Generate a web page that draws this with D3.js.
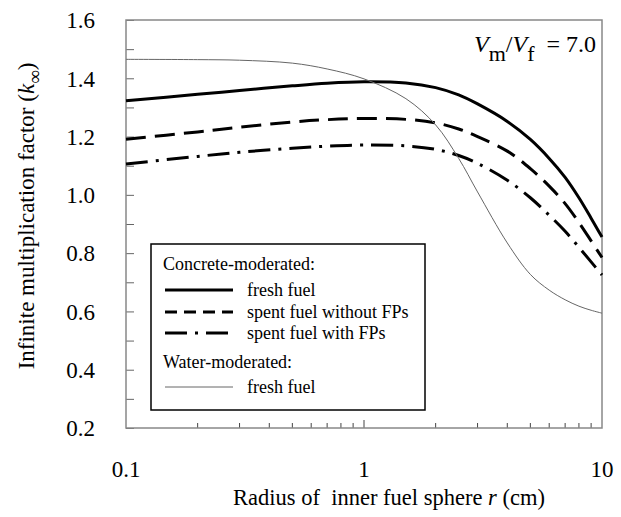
<!DOCTYPE html>
<html>
<head>
<meta charset="utf-8">
<script src="https://cdn.jsdelivr.net/npm/d3@7"></script>
<style>
  body { margin: 0; background: #fff; }
</style>
</head>
<body>
<svg id="chart" width="621" height="517"></svg>
<script>

// radius of inner fuel sphere (cm)
const radius = [0.1, 0.2, 0.3, 0.5, 0.7, 1.0, 1.5, 2.0, 2.5, 3.0, 4.0, 5.0, 6.0, 7.0, 8.0, 9.0, 10]

// k-infinity
const concreteFresh = [1.323, 1.345, 1.358, 1.374, 1.383, 1.388, 1.384, 1.368, 1.343, 1.312, 1.252, 1.19, 1.125, 1.06, 0.99, 0.92, 0.855]
const concreteSpentNoFP = [1.191, 1.216, 1.232, 1.250, 1.258, 1.262, 1.259, 1.247, 1.226, 1.200, 1.150, 1.09, 1.03, 0.97, 0.905, 0.842, 0.785]
const concreteSpentFP = [1.106, 1.132, 1.146, 1.160, 1.167, 1.171, 1.168, 1.156, 1.135, 1.108, 1.05, 0.99, 0.93, 0.875, 0.82, 0.77, 0.725]
const waterFresh = [1.465, 1.464, 1.462, 1.452, 1.432, 1.398, 1.33, 1.24, 1.125, 1.01, 0.835, 0.727, 0.673, 0.64, 0.618, 0.604, 0.594]

const yTicks = [0.2, 0.3, 0.4, 0.5, 0.6, 0.7, 0.8, 0.9, 1.0, 1.1, 1.2, 1.3, 1.4, 1.5, 1.6]
const yLabels = [0.2, 0.4, 0.6, 0.8, 1.0, 1.2, 1.4, 1.6]
const xMinorTicks = [0.2, 0.3, 0.4, 0.5, 0.6, 0.7, 0.8, 0.9, 2, 3, 4, 5, 6, 7, 8, 9]
const xLabels = [0.1, 1, 10]

const series = [
  { name: 'fresh fuel', values: concreteFresh, width: 3, dash: null, color: '#000' },
  { name: 'spent fuel without FPs', values: concreteSpentNoFP, width: 3, dash: '20,9', legendDash: '12,7', color: '#000' },
  { name: 'spent fuel with FPs', values: concreteSpentFP, width: 3, dash: '22,8,3,8', legendDash: '22,8,3,8', color: '#000' },
  { name: 'fresh fuel', values: waterFresh, width: 1, dash: null, color: '#666' }
]

const font = '"Liberation Serif"'

const padding = { top: 20, right: 19, bottom: 89, left: 126 }
const width = 621, height = 517
const innerWidth = width - padding.left - padding.right
const innerHeight = height - padding.top - padding.bottom

const svg = d3.select('#chart')

const g = svg.append('g')
  .attr('transform', `translate(${ padding.left },${ padding.top })`)

const xScale = d3.scaleLog().domain([0.1, 10]).range([0, innerWidth])
const yScale = d3.scaleLinear().domain([0.2, 1.6]).range([innerHeight, 0])

// y axis: inward ticks every 0.1, labels every 0.2
const yAxis = g.append('g')
  .attr('class', 'axis y-axis')
  .call(d3.axisLeft(yScale)
    .tickValues(yTicks)
    .tickSize(-8)
    .tickPadding(31)
    .tickFormat(d => yLabels.some(v => Math.abs(v - d) < 1e-9) ? d3.format('.1f')(d) : ''))

yAxis.attr('font-family', null).attr('font-size', null)
yAxis.select('.domain').remove()
yAxis.selectAll('line').attr('stroke', '#666')
yAxis.selectAll('text')
  .style('font-size', '23px')
  .attr('dy', '0.34em')

// x axis: minor ticks, longer tick at 1
const xAxis = g.append('g')
  .attr('class', 'axis x-axis')
  .attr('transform', `translate(0,${ innerHeight })`)

xAxis.selectAll('.minor')
  .data(xMinorTicks)
  .join('line')
  .attr('class', 'minor')
  .attr('x1', d => xScale(d)).attr('x2', d => xScale(d))
  .attr('y1', 0).attr('y2', -5)
  .attr('stroke', '#444')

xAxis.append('line')
  .attr('x1', xScale(1)).attr('x2', xScale(1))
  .attr('y1', 0).attr('y2', -8)
  .attr('stroke', '#444')

xAxis.selectAll('.label')
  .data(xLabels)
  .join('text')
  .attr('class', 'label')
  .attr('x', d => xScale(d))
  .attr('y', 49)
  .attr('text-anchor', 'middle')
  .style('font-size', '23px')
  .text(d => d)

// frame
g.append('rect')
  .attr('width', innerWidth)
  .attr('height', innerHeight)
  .attr('fill', 'none')
  .attr('stroke', '#888')
  .attr('stroke-width', 1.5)

// curves
const line = d3.line()
  .x(d => xScale(d[0]))
  .y(d => yScale(d[1]))
  .curve(d3.curveCatmullRom.alpha(0.5))

g.append('g').attr('class', 'curves')
  .selectAll('path')
  .data(series)
  .join('path')
  .attr('d', s => line(radius.map((r, i) => [r, s.values[i]])))
  .attr('fill', 'none')
  .attr('stroke', s => s.color)
  .attr('stroke-width', s => s.width)
  .attr('stroke-dasharray', s => s.dash)

// legend
const legend = svg.append('g')
  .attr('class', 'legend')
  .attr('transform', 'translate(151,244)')

legend.append('rect')
  .attr('width', 274)
  .attr('height', 166)
  .attr('fill', '#fff')
  .attr('stroke', '#000')
  .attr('stroke-width', 1.5)

legend.append('text')
  .attr('x', 12).attr('y', 26)
  .style('font-size', '18px')
  .text('Concrete-moderated:')

legend.append('text')
  .attr('x', 12).attr('y', 124)
  .style('font-size', '18px')
  .text('Water-moderated:')

const rowY = [46, 68, 89, 143]

series.forEach((s, i) => {
  legend.append('line')
    .attr('x1', 14).attr('x2', 82)
    .attr('y1', rowY[i]).attr('y2', rowY[i])
    .attr('stroke', s.color)
    .attr('stroke-width', s.width)
    .attr('stroke-dasharray', s.legendDash || null)

  legend.append('text')
    .attr('x', 96).attr('y', rowY[i] + 6)
    .style('font-size', '18px')
    .text(s.name)
})

// annotation Vm/Vf = 7.0
const note = svg.append('text')
  .attr('x', 596).attr('y', 52)
  .attr('text-anchor', 'end')
  .style('font-size', '24px')

note.append('tspan').style('font-style', 'italic').text('V')
note.append('tspan').attr('dy', 9).style('font-size', '22px').text('m')
note.append('tspan').attr('dy', -9).text('/')
note.append('tspan').style('font-style', 'italic').text('V')
note.append('tspan').attr('dy', 9).style('font-size', '22px').text('f')
note.append('tspan').attr('dy', -9).text('\u00a0 = 7.0')

// axis titles
const xTitle = svg.append('text')
  .attr('x', 389)
  .attr('y', 505)
  .attr('text-anchor', 'middle')
  .style('font-size', '22.5px')

xTitle.append('tspan').text('Radius of \u00a0inner fuel sphere ')
xTitle.append('tspan').style('font-style', 'italic').text('r')
xTitle.append('tspan').text(' (cm)')

const yTitle = svg.append('text')
  .attr('transform', `translate(34,${ padding.top + innerHeight / 2 - 8 }) rotate(-90)`)
  .attr('text-anchor', 'middle')
  .style('font-size', '23px')

yTitle.append('tspan').text('Infinite multiplication factor (')
yTitle.append('tspan').style('font-style', 'italic').text('k')
yTitle.append('tspan').attr('dy', 7).style('font-size', '19px').text('\u221e')
yTitle.append('tspan').attr('dy', -7).text(')')

// one serif family on every text and tspan
svg.selectAll('text').style('font-family', font)

</script>
</body>
</html>
